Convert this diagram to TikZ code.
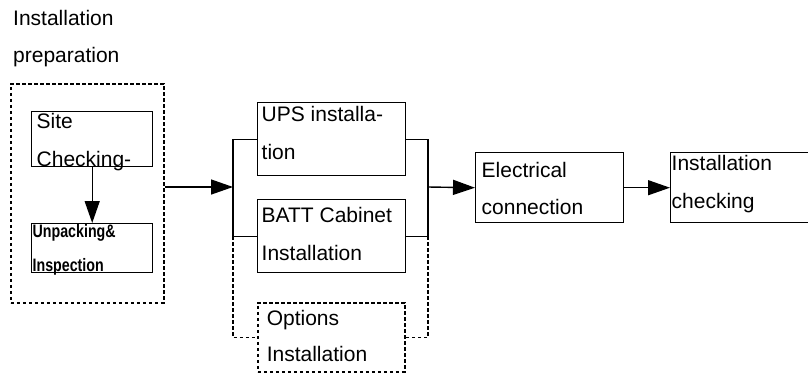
\documentclass[tikz,border=0pt]{standalone}
\usepackage{fontspec}
\setmainfont{Liberation Sans}
\newfontfamily\condbold{Liberation Sans}[FakeStretch=0.79]
\usetikzlibrary{arrows.meta}
% #1 width, #2 height, #3 top-to-first-baseline, #4 left pad, #5 line 1, #6 line 2
\newcommand\boxtxt[6]{\parbox[c][#2][t]{#1}{\hspace*{#4}\rule{0pt}{#3}#5\\\hspace*{#4}#6}}
\begin{document}
\begin{tikzpicture}[x=1pt,y=-1pt,
  lw/.style={line width=1.4pt},
  box/.style={draw,lw,anchor=north west,inner sep=0pt,font=\fontsize{21}{38}\selectfont},
  dbox/.style={box,line width=1.6pt,dash pattern=on 3.5pt off 2.5pt},
  dline/.style={line width=1.6pt,dash pattern=on 3.5pt off 2.5pt},
  conn/.style={lw},
  arr/.style={lw,-{Triangle[length=22pt,width=15pt]}}]
\useasboundingbox (0,0) rectangle (808,376);
\clip (0,0) rectangle (808,376);
\fill[white] (0,0) rectangle (808,376);

% title
\node[anchor=base west,inner sep=0pt,align=left,font=\fontsize{21}{37}\selectfont] (title) at (13,62) {Installation\\preparation};

% installation preparation group
\node[dbox,minimum width=153pt,minimum height=219pt] (prep) at (10,83) {};
\node[box] (site) at (31,111) {\boxtxt{121pt}{55pt}{17pt}{5pt}{Site}{Checking-}};
\node[box,font=\condbold\bfseries\fontsize{18}{34}\selectfont] (unpack) at (31,223) {\boxtxt{121pt}{49pt}{14pt}{1pt}{Unpacking\&}{Inspection}};

% middle group
\node[box] (ups) at (257,102) {\boxtxt{148pt}{73pt}{19pt}{4pt}{UPS installa-}{tion}};
\node[box] (batt) at (257,199) {\boxtxt{148pt}{73pt}{23pt}{4pt}{BATT Cabinet}{Installation}};
\node[dbox,font=\fontsize{21}{36}\selectfont] (opt) at (257,302) {\boxtxt{147pt}{69pt}{23pt}{9pt}{Options}{Installation}};

% right boxes
\node[box,font=\fontsize{21}{37}\selectfont] (elec) at (475,152) {\boxtxt{148pt}{70pt}{25pt}{6pt}{Electrical}{connection}};
\node[box] (check) at (670,152) {\boxtxt{150pt}{70pt}{18pt}{1pt}{Installation}{checking}};

% junction points
\coordinate (jl) at (233,187);
\coordinate (jr) at (428,187);

% connectors
\draw[arr] (site.south) -- (unpack.north);
\draw[arr] (prep.east |- jl) -- (jl);
\draw[conn] (ups.west) -| (jl) |- (batt.west);
\draw[conn] (ups.east) -| (jr) |- (batt.east);
\draw[dline] (jl |- batt.west) |- (opt.west);
\draw[dline] (jr |- batt.east) |- (opt.east);
\draw[arr] (jr) -- (elec.west);
\draw[arr] (elec.east) -- (check.west);
\end{tikzpicture}
\end{document}
